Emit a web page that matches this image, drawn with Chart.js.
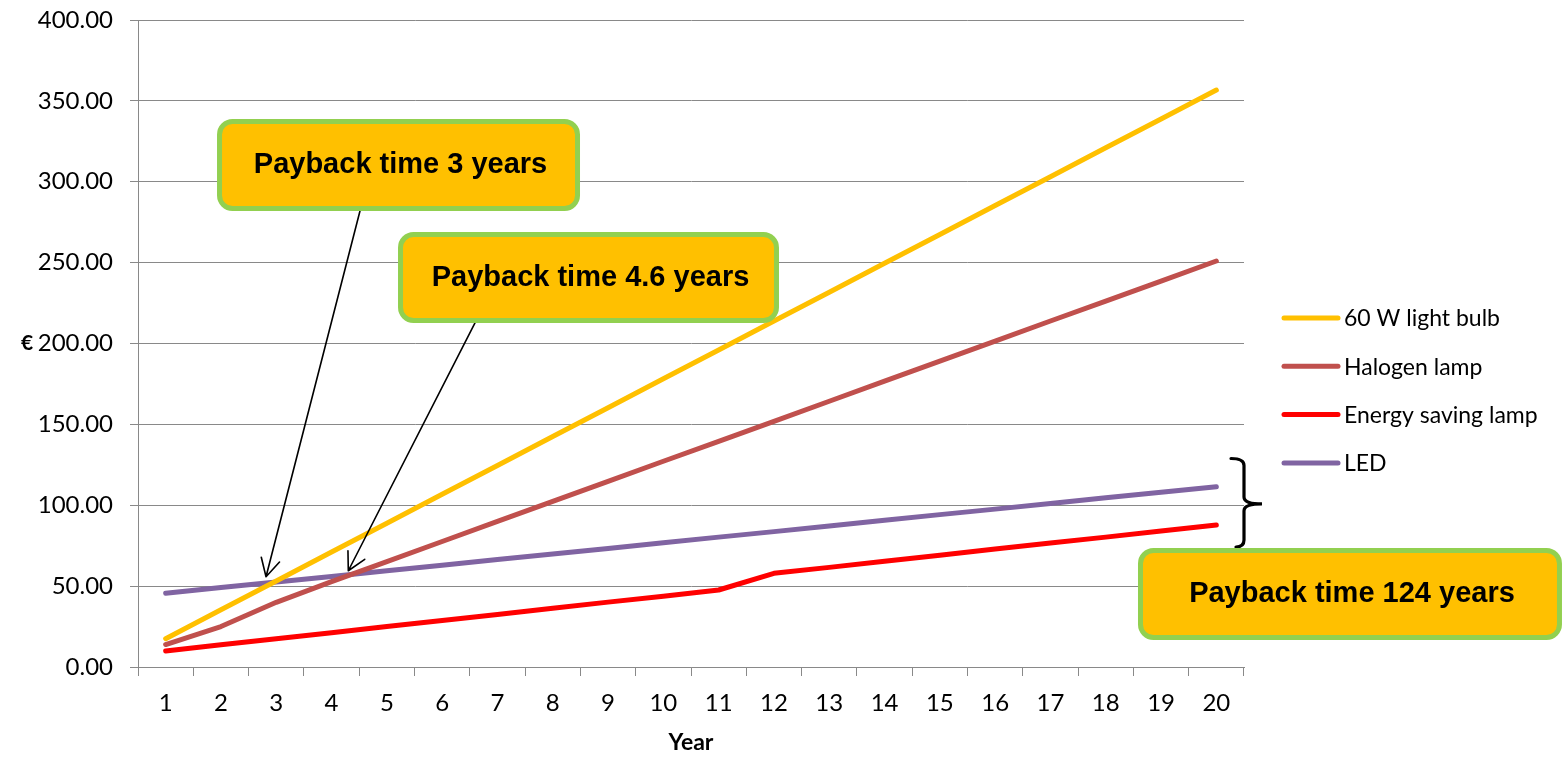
<!DOCTYPE html>
<html>
<head>
<meta charset="utf-8">
<title>Lamp costs</title>
<script src="https://cdn.jsdelivr.net/npm/chart.js"></script>
<style>
  body { margin: 0; background: #fff; }
  #wrap { width: 1564px; height: 757px; }
</style>
</head>
<body>
<div id="wrap"><canvas id="costs" width="1564" height="757"></canvas></div>
<script>
// Years on the x axis
const years = [1, 2, 3, 4, 5, 6, 7, 8, 9, 10, 11, 12, 13, 14, 15, 16, 17, 18, 19, 20];

// Cumulative cost in euro per lamp type
const bulb60W = [17.5, 35.4, 53.2, 71.1, 88.9, 106.8, 124.6, 142.5, 160.3, 178.2, 196.0, 213.9, 231.7, 249.6, 267.4, 285.3, 303.1, 321.0, 338.8, 356.7];
const halogen = [13.9, 25.0, 40.0, 52.8, 65.2, 77.6, 90.0, 102.4, 114.8, 127.2, 139.5, 151.9, 164.3, 176.7, 189.1, 201.5, 213.9, 226.2, 238.6, 251.0];
const energySaving = [9.9, 13.7, 17.4, 21.2, 25.0, 28.8, 32.5, 36.3, 40.1, 43.8, 47.6, 57.9, 61.6, 65.4, 69.1, 72.9, 76.6, 80.3, 84.1, 87.8];
const led = [45.6, 49.1, 52.5, 56.0, 59.5, 62.9, 66.4, 69.9, 73.3, 76.8, 80.3, 83.7, 87.2, 90.7, 94.2, 97.6, 101.1, 104.6, 108.0, 111.5];

// Y axis tick values
const yTicks = [0, 50, 100, 150, 200, 250, 300, 350, 400];

// Call-out boxes: [year from, year to, value top, value bottom, text]
const callouts = [
  [1.929, 8.493, 338.8, 281.9, 'Payback time 3 years'],
  [5.202, 12.091, 268.9, 212.7, 'Payback time 4.6 years'],
  [18.583, 26.25, 73.6, 16.7, 'Payback time 124 years']
];
// Arrows: [year start, value start, year tip, value tip]
const arrows = [
  [4.514, 281.9, 2.815, 55.8],
  [6.594, 212.7, 4.303, 59.5]
];

const gridColor = '#898989';
const tickFont = { family: 'Lato', size: 24 };

const annotationPlugin = {
  id: 'annotations',
  afterDraw(chart) {
    const ctx = chart.ctx;
    const xs = chart.scales.x;
    const ys = chart.scales.y;
    const px = yr => xs.getPixelForValue(yr - 1);
    const py = v => ys.getPixelForValue(v);
    const area = chart.chartArea;

    ctx.save();

    // y axis title, kept upright
    ctx.fillStyle = '#000';
    ctx.font = 'bold 21px Lato';
    ctx.textAlign = 'center';
    ctx.textBaseline = 'middle';
    ctx.fillText('€', 27, (area.top + area.bottom) / 2);

    // arrows
    ctx.strokeStyle = '#000';
    ctx.lineWidth = 1.6;
    ctx.lineCap = 'round';
    arrows.forEach(a => {
      const x0 = px(a[0]), y0 = py(a[1]), x1 = px(a[2]), y1 = py(a[3]);
      const ang = Math.atan2(y0 - y1, x0 - x1);
      ctx.beginPath();
      ctx.moveTo(x0, y0);
      ctx.lineTo(x1, y1);
      [-0.49, 0.49].forEach(d => {
        ctx.moveTo(x1, y1);
        ctx.lineTo(x1 + 20 * Math.cos(ang + d), y1 + 20 * Math.sin(ang + d));
      });
      ctx.stroke();
    });

    // curly brace next to the LED / energy saving ends
    const bx = px(20.5), top = py(128.9), mid = py(100.8), bot = py(74.2);
    ctx.lineWidth = 3.2;
    ctx.beginPath();
    ctx.moveTo(px(20.265), top);
    ctx.quadraticCurveTo(bx, top, bx, top + 7);
    ctx.lineTo(bx, mid - 7);
    ctx.quadraticCurveTo(bx, mid, px(20.825), mid);
    ctx.quadraticCurveTo(bx, mid, bx, mid + 7);
    ctx.lineTo(bx, bot - 7);
    ctx.quadraticCurveTo(bx, bot, px(20.355), bot);
    ctx.stroke();

    // call-out boxes
    callouts.forEach(c => {
      const x0 = px(c[0]) + 2.5, x1 = px(c[1]) - 2.5;
      const y0 = py(c[2]) + 2.5, y1 = py(c[3]) - 2.5;
      ctx.beginPath();
      ctx.roundRect(x0, y0, x1 - x0, y1 - y0, 13);
      ctx.fillStyle = '#FFC000';
      ctx.fill();
      ctx.lineWidth = 5;
      ctx.strokeStyle = '#92D050';
      ctx.stroke();
      ctx.fillStyle = '#000';
      ctx.font = 'bold 29px "Liberation Sans", Arial';
      ctx.textAlign = 'center';
      ctx.textBaseline = 'middle';
      ctx.fillText(c[4], (x0 + x1) / 2 + 2, (y0 + y1) / 2);
    });

    // legend
    ctx.font = '23px Lato';
    ctx.textAlign = 'left';
    chart.data.datasets.forEach((ds, i) => {
      const y = 318 + i * 48.3;
      const lx = area.right + 40;
      ctx.beginPath();
      ctx.moveTo(lx, y);
      ctx.lineTo(lx + 54, y);
      ctx.lineWidth = 5;
      ctx.lineCap = 'round';
      ctx.strokeStyle = ds.borderColor;
      ctx.stroke();
      ctx.fillStyle = '#000';
      ctx.fillText(ds.label, lx + 60, y + 1);
    });

    ctx.restore();
  }
};

document.addEventListener('DOMContentLoaded', function() {
  const ctx = document.getElementById('costs').getContext('2d');

  function series(label, data, color) {
    return { label: label, data: data, borderColor: color, backgroundColor: color };
  }

  new Chart(ctx, {
    type: 'line',
    data: {
      labels: years,
      datasets: [
        series('60 W light bulb', bulb60W, '#FFC000'),
        series('Halogen lamp', halogen, '#C0504D'),
        series('Energy saving lamp', energySaving, '#FF0000'),
        series('LED', led, '#8064A2')
      ]
    },
    options: {
      responsive: false,
      animation: false,
      layout: { padding: { top: 20, right: 320, left: 0, bottom: 0 } },
      elements: {
        point: { radius: 0 },
        line: { borderWidth: 5, tension: 0, borderCapStyle: 'round', borderJoinStyle: 'round' }
      },
      plugins: {
        legend: { display: false },
        tooltip: { enabled: false }
      },
      scales: {
        x: {
          offset: true,
          grid: { drawOnChartArea: false, offset: true, color: gridColor, tickLength: 9 },
          border: { color: gridColor },
          ticks: { color: '#000', font: tickFont, padding: 13, maxRotation: 0, autoSkip: false },
          title: {
            display: true, text: 'Year', color: '#000',
            font: { family: 'Lato', size: 23, weight: 'bold' },
            padding: { top: 0, bottom: 1 }
          },
          afterFit: s => { s.height = 90; s.paddingLeft = 0; s.paddingRight = 0; }
        },
        y: {
          min: 0,
          max: 400,
          afterBuildTicks: s => { s.ticks = yTicks.map(v => ({ value: v })); },
          grid: { color: gridColor, tickLength: 8 },
          border: { color: gridColor },
          ticks: { color: '#000', font: tickFont, padding: 17, callback: v => v.toFixed(2) },
          afterFit: s => { s.width = 138; s.paddingTop = 0; s.paddingBottom = 0; }
        }
      }
    },
    plugins: [annotationPlugin]
  });
});
</script>
</body>
</html>
